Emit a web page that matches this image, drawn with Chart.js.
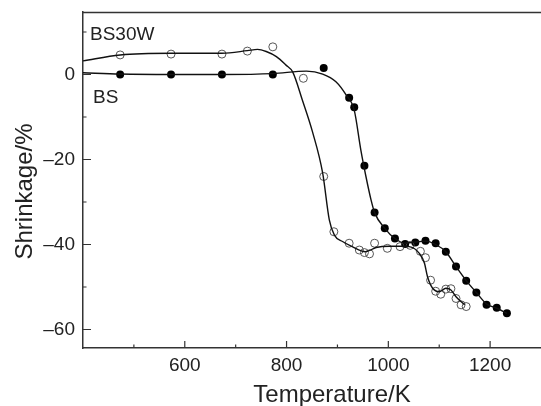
<!DOCTYPE html>
<html>
<head>
<meta charset="utf-8">
<script src="https://cdn.jsdelivr.net/npm/chart.js@4/dist/chart.umd.min.js"></script>
<style>
  html, body { margin: 0; padding: 0; background: #fff; }
  #wrap { width: 541px; height: 406px; }
</style>
</head>
<body>
<div id="wrap"><canvas id="myChart" width="541" height="406"></canvas></div>
<script>
// measured points, temperature in K, shrinkage in %
let bsTemp = [473, 573, 673, 773, 873, 923, 933, 953, 973, 993, 1013, 1033, 1053, 1073, 1093, 1113, 1133, 1153, 1173, 1193, 1213, 1233];
let bsShrink = [0, 0, 0, 0, 1.5, -5.5, -7.7, -21.5, -32.5, -36.2, -38.6, -39.9, -39.5, -39.1, -39.7, -41.7, -45.2, -48.5, -51.3, -54.2, -54.9, -56.2];

let bs30wTemp = [473, 573, 673, 723, 773, 833, 873, 893, 923, 943, 953, 963, 973, 998, 1023, 1043, 1063, 1073, 1083, 1093, 1103, 1113, 1123, 1133, 1143, 1153];
let bs30wShrink = [4.6, 4.8, 4.8, 5.5, 6.5, -0.9, -24.0, -37.0, -39.7, -41.3, -41.9, -42.2, -39.7, -40.9, -40.5, -40.2, -41.6, -43.1, -48.4, -51.0, -51.7, -50.5, -50.4, -52.7, -54.2, -54.6];

// fitted curves
let bsFitTemp = [400, 473, 573, 673, 773, 839, 871, 897, 917, 933, 946, 956, 966, 973, 993, 1013, 1033, 1053, 1073, 1093, 1113, 1133, 1153, 1173, 1193, 1213, 1233];
let bsFitShrink = [0.4, 0.1, 0, 0, 0.2, 0.8, 0.1, -1.7, -4.8, -8.4, -17.8, -24, -29.5, -32.5, -36.2, -38.6, -39.7, -39.4, -39.2, -40, -41.7, -45.2, -48.5, -51.3, -54.0, -55.0, -56.2];

let bs30wFitTemp = [400, 473, 573, 673, 723, 743, 760, 780, 799, 812, 831, 851, 871, 884, 894, 910, 929, 955, 976, 1002, 1027, 1041, 1061, 1071, 1077, 1087, 1100, 1113, 1123, 1133, 1150];
let bs30wFitShrink = [3.2, 4.6, 5.0, 5.0, 5.6, 5.9, 5.4, 4.2, 2.2, 0.6, -6, -13.5, -23.2, -34.2, -37.8, -39.3, -40.5, -41.7, -40.7, -40.4, -40.4, -40.5, -42.1, -44.4, -47.6, -50.3, -51.1, -50.3, -50.7, -52.3, -54.2];

let xMajorTicks = [600, 800, 1000, 1200];
let xMinorTicks = [500, 700, 900, 1100];
let yMajorTicks = [0, -20, -40, -60];
let yMinorTicks = [10, -10, -30, -50];

let fontName = '"Liberation Sans", Arial, Helvetica, sans-serif';
let ink = '#222';

function pts(xs, ys) {
    return xs.map((x, i) => ({x: x, y: ys[i]}));
}

let frame = {
    id: 'frame',
    afterDraw(chart) {
        let c = chart.ctx;
        let a = chart.chartArea;
        let xs = chart.scales.x;
        let ys = chart.scales.y;
        c.save();
        c.strokeStyle = '#333';
        c.lineWidth = 1.5;
        // top border
        c.beginPath();
        c.moveTo(a.left, a.top + 0.5);
        c.lineTo(a.right, a.top + 0.5);
        c.stroke();
        // inward ticks
        c.lineWidth = 1.2;
        c.beginPath();
        xMajorTicks.forEach(v => { let p = xs.getPixelForValue(v); c.moveTo(p, a.bottom); c.lineTo(p, a.bottom - 7); });
        xMinorTicks.forEach(v => { let p = xs.getPixelForValue(v); c.moveTo(p, a.bottom); c.lineTo(p, a.bottom - 3.5); });
        yMajorTicks.forEach(v => { let p = ys.getPixelForValue(v); c.moveTo(a.left, p); c.lineTo(a.left + 8, p); });
        yMinorTicks.forEach(v => { let p = ys.getPixelForValue(v); c.moveTo(a.left, p); c.lineTo(a.left + 3.5, p); });
        c.stroke();

        c.fillStyle = ink;
        c.font = '24px ' + fontName;
        c.textAlign = 'center';
        c.textBaseline = 'alphabetic';
        c.fillText('Temperature/K', 332, 401.5);
        c.save();
        c.translate(32, 191.5);
        c.rotate(-Math.PI / 2);
        c.fillText('Shrinkage/%', 0, 0);
        c.restore();

        c.font = '19px ' + fontName;
        c.textAlign = 'left';
        c.fillText('BS30W', a.left + 7, 40);
        c.fillText('BS', a.left + 10, 103);
        c.restore();
    }
};

let ctx = document.getElementById('myChart').getContext('2d');

let data = {
    type: 'scatter',
    data: {
        datasets: [{
            label: 'BS30W fit',
            data: pts(bs30wFitTemp, bs30wFitShrink),
            showLine: true,
            borderColor: '#111',
            borderWidth: 1.4,
            pointRadius: 0,
            cubicInterpolationMode: 'monotone',
        }, {
            label: 'BS fit',
            data: pts(bsFitTemp, bsFitShrink),
            showLine: true,
            borderColor: '#111',
            borderWidth: 1.4,
            pointRadius: 0,
            cubicInterpolationMode: 'monotone',
        }, {
            label: 'BS30W',
            data: pts(bs30wTemp, bs30wShrink),
            showLine: false,
            pointRadius: 4,
            pointBorderWidth: 0.9,
            pointBorderColor: '#444',
            pointBackgroundColor: 'rgba(255,255,255,0)',
        }, {
            label: 'BS',
            data: pts(bsTemp, bsShrink),
            showLine: false,
            pointRadius: 4,
            pointBorderWidth: 0,
            pointBackgroundColor: '#000',
        }]
    },
    options: {
        responsive: false,
        animation: false,
        events: [],
        layout: { autoPadding: false, padding: { top: 12, left: 0, right: 0, bottom: 0 } },
        plugins: {
            legend: { display: false },
            tooltip: { enabled: false },
        },
        scales: {
            x: {
                type: 'linear',
                min: 400,
                max: 1300,
                afterBuildTicks: s => { s.ticks = xMajorTicks.map(v => ({value: v})); },
                afterFit: s => { s.height = 58; s.paddingLeft = 0; s.paddingRight = 0; },
                grid: { display: false, drawTicks: false },
                border: { display: true, color: '#333', width: 1.5 },
                ticks: {
                    color: ink,
                    font: { family: fontName, size: 19 },
                    padding: 6,
                    maxRotation: 0,
                    autoSkip: false,
                    callback: v => String(v),
                },
            },
            y: {
                min: -64.35,
                max: 14.7,
                afterBuildTicks: s => { s.ticks = yMajorTicks.map(v => ({value: v})); },
                afterFit: s => { s.width = 83; s.paddingTop = 0; s.paddingBottom = 0; },
                grid: { display: false, drawTicks: false },
                border: { display: true, color: '#333', width: 1.5 },
                ticks: {
                    color: ink,
                    font: { family: fontName, size: 19 },
                    padding: 8,
                    callback: v => v < 0 ? '\u2013' + (-v) : String(v),
                },
            }
        }
    },
    plugins: [frame]
};

let myChart = new Chart(ctx, data);
</script>
</body>
</html>
